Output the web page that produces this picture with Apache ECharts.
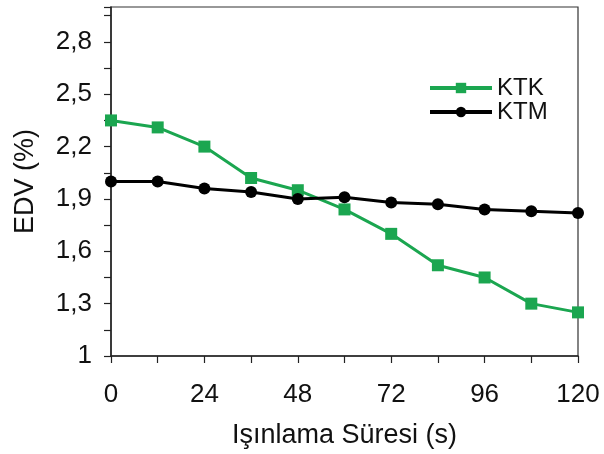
<!DOCTYPE html>
<html>
<head>
<meta charset="utf-8">
<script src="https://cdn.jsdelivr.net/npm/echarts@6/dist/echarts.min.js"></script>
<style>html,body{margin:0;padding:0;background:#fff;}#c{width:604px;height:454px;}</style>
</head>
<body>
<div id="c"></div>
<script>
var xValues = [0, 12, 24, 36, 48, 60, 72, 84, 96, 108, 120];
var ktk = [2.35, 2.31, 2.20, 2.02, 1.95, 1.84, 1.70, 1.52, 1.45, 1.30, 1.25];
var ktm = [2.00, 2.00, 1.96, 1.94, 1.90, 1.91, 1.88, 1.87, 1.84, 1.83, 1.82];
var yTickLabels = [1, 1.3, 1.6, 1.9, 2.2, 2.5, 2.8];
var xTickLabels = [0, 24, 48, 72, 96, 120];
var seriesNames = ['KTK', 'KTM'];
var xTitle = 'Işınlama Süresi (s)';
var yTitle = 'EDV (%)';

function pairs(ys) { return xValues.map(function (x, i) { return [x, ys[i]]; }); }
var font = 'Liberation Sans, Arial, sans-serif';
var chart = echarts.init(document.getElementById('c'), null, {renderer: 'canvas'});
chart.setOption({
  animation: false,
  backgroundColor: '#ffffff',
  grid: {left: 111, right: 26, top: 7, bottom: 97, show: true, borderColor: '#333', borderWidth: 1.2, backgroundColor: 'transparent'},
  legend: {
    orient: 'vertical', left: 423, top: 71, itemWidth: 62, itemHeight: 13, itemGap: 0,
    textStyle: {fontFamily: font, fontSize: 24, color: '#111'},
    lineStyle: {width: 4},
    data: seriesNames
  },
  xAxis: {
    type: 'value', min: 0, max: 120, interval: 12,
    axisLine: {lineStyle: {color: '#222', width: 1.5}},
    axisTick: {show: true, length: 7, lineStyle: {color: '#222', width: 1.2}},
    splitLine: {show: false},
    axisLabel: {
      margin: 26, fontFamily: font, fontSize: 26, color: '#111',
      formatter: function (v) { return xTickLabels.indexOf(v) >= 0 ? String(v) : ''; }
    },
    name: xTitle, nameLocation: 'middle', nameGap: 66,
    nameTextStyle: {fontFamily: font, fontSize: 27, color: '#111'}
  },
  yAxis: {
    type: 'value', min: 1, max: 3, interval: 0.15,
    axisLine: {show: true, lineStyle: {color: '#222', width: 1.5}},
    axisTick: {show: true, length: 7, lineStyle: {color: '#222', width: 1.2}},
    splitLine: {show: false},
    axisLabel: {
      margin: 19, fontFamily: font, fontSize: 26, color: '#111',
      formatter: function (v) {
        for (var i = 0; i < yTickLabels.length; i++) {
          if (Math.abs(yTickLabels[i] - v) < 1e-6) return String(yTickLabels[i]).replace('.', ',');
        }
        return '';
      }
    },
    name: yTitle, nameLocation: 'middle', nameGap: 72, nameRotate: 90,
    nameTextStyle: {fontFamily: font, fontSize: 27, color: '#111'}
  },
  series: [
    {name: seriesNames[0], type: 'line', data: pairs(ktk), symbol: 'rect', symbolSize: 12,
     itemStyle: {color: '#1ba650'}, lineStyle: {color: '#1ba650', width: 3}, z: 3},
    {name: seriesNames[1], type: 'line', data: pairs(ktm), symbol: 'circle', symbolSize: 12,
     itemStyle: {color: '#000'}, lineStyle: {color: '#000', width: 3}, z: 4}
  ]
});
</script>
</body>
</html>
